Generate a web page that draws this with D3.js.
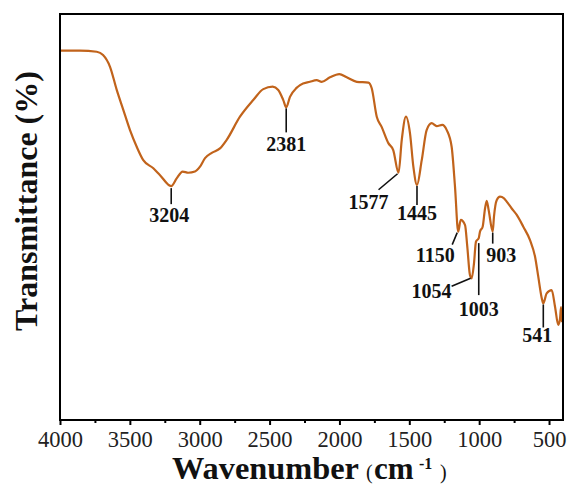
<!DOCTYPE html>
<html>
<head>
<meta charset="utf-8">
<script src="https://cdn.jsdelivr.net/npm/d3@7"></script>
<style>
  html, body { margin: 0; padding: 0; background: #fff; }
  svg { display: block; }
</style>
</head>
<body>
<svg id="chart" width="569" height="486"></svg>
<script>
// ---- data ----
const wavenumber = [4000, 3857, 3737, 3692, 3642, 3594, 3547, 3499, 3451, 3404, 3332, 3284, 3204,
  3165, 3122, 3082, 3034, 2998, 2962, 2914, 2855, 2807, 2712, 2617, 2545, 2478, 2438, 2402, 2381,
  2354, 2307, 2282, 2211, 2163, 2127, 2068, 2001, 1948, 1876, 1793, 1769, 1733, 1698, 1650, 1615,
  1577, 1554, 1524, 1495, 1471, 1445, 1411, 1376, 1340, 1304, 1264, 1232, 1197, 1173, 1150, 1132,
  1101, 1085, 1066, 1054, 1037, 1023, 1003, 994, 975, 958, 946, 932, 903, 894, 874, 851, 822, 803,
  767, 731, 684, 636, 600, 577, 552, 541, 517, 481, 457, 434, 421, 414, 407];
const transmittance = [91.0, 91.0, 90.7, 89.9, 87.0, 81.3, 76.4, 71.4, 67.3, 64.0, 62.0, 60.3, 57.6,
  59.5, 61.2, 60.9, 61.2, 62.4, 64.5, 65.8, 66.9, 69.0, 74.7, 78.8, 81.5, 82.1, 81.3, 78.8, 77.0,
  79.6, 81.8, 82.5, 83.3, 83.7, 83.3, 84.4, 85.2, 84.4, 83.3, 83.1, 81.7, 74.7, 72.2, 68.2, 66.5,
  60.9, 69.0, 74.7, 70.6, 62.4, 57.9, 64.0, 71.4, 73.1, 72.4, 72.7, 71.4, 67.3, 57.5, 46.4, 49.3,
  48.0, 42.7, 35.7, 34.9, 38.6, 43.9, 44.8, 46.4, 47.6, 52.1, 54.0, 51.7, 46.4, 50.1, 54.2, 55.0, 54.6, 53.8,
  52.1, 50.5, 47.6, 44.3, 40.2, 35.3, 30.0, 28.7, 31.2, 32.0, 27.9, 23.4, 25.1, 27.8, 24.1];
const peakLabels = [3204, 2381, 1577, 1445, 1150, 1054, 1003, 903, 541];
const xTickValues = [4000, 3500, 3000, 2500, 2000, 1500, 1000, 500];
const xMinorTickValues = [3750, 3250, 2750, 2250, 1750, 1250, 750];

// ---- layout ----
const plot = { left: 60, top: 14, right: 563, bottom: 420 };
const lineColor = "#c1631b";
const serif = "'Times New Roman', 'Liberation Serif', 'DejaVu Serif', serif";

// leader-line and label offsets relative to each peak point (pixels)
const annotationLayout = {
  3204: { l: [0, 2, 0, 18], t: [-2, 36] },
  2381: { l: [0, 1, 0, 25], t: [0, 44] },
  1577: { l: [-1, 1, -20, 17], t: [-30, 36] },
  1445: { l: [0, 1, 0, 20], t: [0, 35] },
  1150: { l: [-1, 1, -6, 13], t: [-23, 30] },
  1054: { l: [-1, 0, -20, 8], t: [-40, 20] },
  1003: { l: [0, 5, 0, 57], t: [0, 78] },
  903:  { l: [0, 1, 0, 12], t: [8.5, 30] },
  541:  { l: [0, 1, 0, 24], t: [-6, 38.5] }
};

const svg = d3.select("#chart");

const x = d3.scaleLinear().domain([4000, 400]).range([plot.left, plot.right]);
const y = d3.scaleLinear().domain([0, 100]).range([plot.bottom, plot.top]);

const data = wavenumber.map((w, i) => ({ w, t: transmittance[i] }));

// curve
svg.append("path")
  .datum(data)
  .attr("fill", "none")
  .attr("stroke", lineColor)
  .attr("stroke-width", 2.2)
  .attr("stroke-linejoin", "round")
  .attr("d", d3.line().x(d => x(d.w)).y(d => y(d.t)).curve(d3.curveMonotoneX));

// frame
svg.append("rect")
  .attr("x", plot.left).attr("y", plot.top)
  .attr("width", plot.right - plot.left).attr("height", plot.bottom - plot.top)
  .attr("fill", "none").attr("stroke", "#000").attr("stroke-width", 2);

// x axis (major)
const gx = svg.append("g").attr("transform", `translate(0,${plot.bottom})`)
  .call(d3.axisBottom(x).tickValues(xTickValues).tickSize(5).tickSizeOuter(0).tickPadding(6.5).tickFormat(d3.format("d")));
gx.select(".domain").remove();
gx.selectAll(".tick line").attr("stroke", "#000").attr("stroke-width", 2);
gx.selectAll(".tick text").attr("font-family", serif).attr("font-size", 22.5).attr("fill", "#222");

// minor ticks
const gm = svg.append("g").attr("transform", `translate(0,${plot.bottom})`)
  .call(d3.axisBottom(x).tickValues(xMinorTickValues).tickSize(3).tickSizeOuter(0).tickFormat(""));
gm.select(".domain").remove();
gm.selectAll(".tick line").attr("stroke", "#000").attr("stroke-width", 2);

// annotations
const peaks = peakLabels.map(p => {
  const i = wavenumber.indexOf(p);
  return { p, px: x(p), py: y(transmittance[i]), lay: annotationLayout[p] };
});
const ga = svg.append("g");
ga.selectAll("line").data(peaks).join("line")
  .attr("x1", d => d.px + d.lay.l[0]).attr("y1", d => d.py + d.lay.l[1])
  .attr("x2", d => d.px + d.lay.l[2]).attr("y2", d => d.py + d.lay.l[3])
  .attr("stroke", "#111").attr("stroke-width", 1.6);
ga.selectAll("text").data(peaks).join("text")
  .attr("x", d => d.px + d.lay.t[0]).attr("y", d => d.py + d.lay.t[1])
  .attr("text-anchor", "middle")
  .attr("font-family", serif).attr("font-weight", "bold").attr("font-size", 20).attr("fill", "#111")
  .text(d => d.p);

// y label
svg.append("text")
  .attr("transform", "translate(37,201) rotate(-90)")
  .attr("text-anchor", "middle")
  .attr("font-family", serif).attr("font-weight", "bold").attr("font-size", 32).attr("fill", "#111")
  .text("Transmittance (%)");

// x label
const xl = svg.append("text").attr("font-family", serif).attr("fill", "#111");
xl.append("tspan").attr("x", 172).attr("y", 479).attr("font-weight", "bold").attr("font-size", 30.5)
  .attr("textLength", 187).attr("lengthAdjust", "spacingAndGlyphs").text("Wavenumber");
xl.append("tspan").attr("x", 366).attr("y", 479).attr("font-size", 20).text("(");
xl.append("tspan").attr("x", 374).attr("y", 479).attr("font-weight", "bold").attr("font-size", 31).text("cm");
xl.append("tspan").attr("x", 419).attr("y", 469).attr("font-weight", "bold").attr("font-size", 16).text("-1");
xl.append("tspan").attr("x", 440).attr("y", 479).attr("font-size", 20).text(")");
</script>
</body>
</html>
